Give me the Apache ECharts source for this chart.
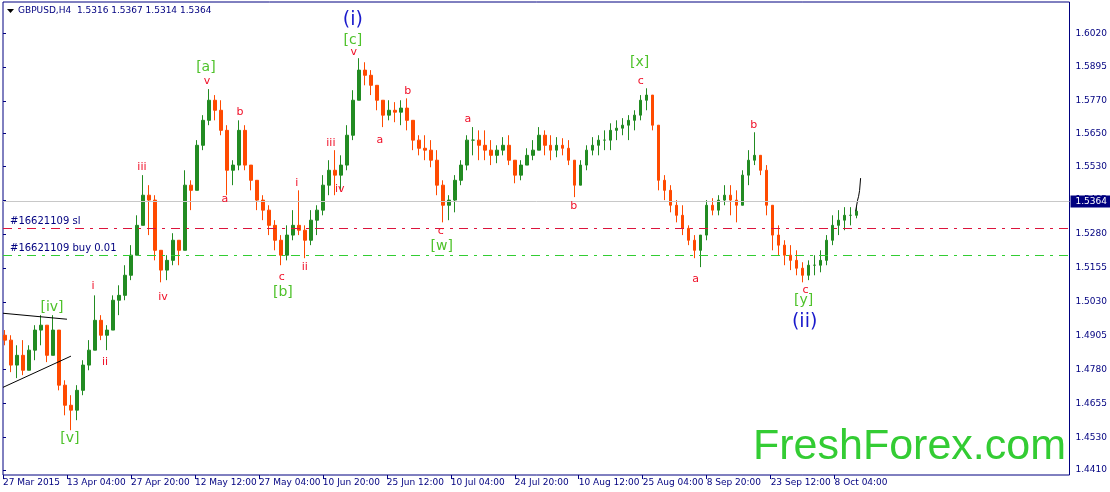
<!DOCTYPE html>
<html>
<head>
<meta charset="utf-8">
<script src="https://cdn.jsdelivr.net/npm/echarts@6/dist/echarts.min.js"></script>
<style>
html, body { margin: 0; padding: 0; background: #fff; }
#main { width: 1110px; height: 492px; }
</style>
</head>
<body>
<div id="main"></div>
<script>
// GBPUSD H4, squeezed into one candle per 6 H4 bars (about a trading day)
var barStep = 6;
var firstOpen = 1.4907;

var highs = [
    1.4926, 1.4907, 1.4870, 1.4889, 1.4870, 1.4944, 1.4981, 1.4926, 1.4981, 1.4870,
    1.4741, 1.4686, 1.4723, 1.4815, 1.4889, 1.5054, 1.4981, 1.4944, 1.5054, 1.5091,
    1.5165, 1.5239, 1.5349, 1.5497, 1.5460, 1.5423, 1.5220, 1.5202, 1.5283, 1.5257,
    1.5515, 1.5478, 1.5626, 1.5718, 1.5814, 1.5792, 1.5773, 1.5681, 1.5552, 1.5699,
    1.5681, 1.5534, 1.5478, 1.5423, 1.5386, 1.5331, 1.5276, 1.5312, 1.5368, 1.5441,
    1.5312, 1.5368, 1.5386, 1.5497, 1.5552, 1.5589, 1.5570, 1.5681, 1.5810, 1.5928,
    1.5913, 1.5884, 1.5828, 1.5773, 1.5773, 1.5766, 1.5773, 1.5780, 1.5699, 1.5644,
    1.5644, 1.5626, 1.5589, 1.5478, 1.5423, 1.5497, 1.5552, 1.5644, 1.5674, 1.5662,
    1.5662, 1.5626, 1.5607, 1.5637, 1.5644, 1.5534, 1.5552, 1.5596, 1.5626, 1.5674,
    1.5662, 1.5644, 1.5637, 1.5633, 1.5626, 1.5552, 1.5552, 1.5607, 1.5637, 1.5644,
    1.5662, 1.5688, 1.5699, 1.5707, 1.5718, 1.5736, 1.5792, 1.5817, 1.5773, 1.5589,
    1.5497, 1.5460, 1.5405, 1.5386, 1.5312, 1.5276, 1.5239, 1.5405, 1.5412, 1.5423,
    1.5460, 1.5460, 1.5441, 1.5515, 1.5589, 1.5655, 1.5570, 1.5534, 1.5386, 1.5312,
    1.5257, 1.5239, 1.5220, 1.5176, 1.5183, 1.5202, 1.5220, 1.5276, 1.5349, 1.5368,
    1.5379, 1.5379, 1.5379
];
var lows = [
    1.4870, 1.4771, 1.4749, 1.4760, 1.4785, 1.4815, 1.4870, 1.4808, 1.4852, 1.4704,
    1.4612, 1.4557, 1.4594, 1.4686, 1.4778, 1.4852, 1.4889, 1.4852, 1.4926, 1.4981,
    1.5036, 1.5110, 1.5202, 1.5312, 1.5276, 1.5183, 1.5102, 1.5110, 1.5165, 1.5165,
    1.5220, 1.5368, 1.5441, 1.5589, 1.5681, 1.5699, 1.5644, 1.5423, 1.5460, 1.5515,
    1.5515, 1.5441, 1.5368, 1.5331, 1.5276, 1.5220, 1.5165, 1.5183, 1.5257, 1.5276,
    1.5191, 1.5239, 1.5276, 1.5349, 1.5423, 1.5423, 1.5441, 1.5515, 1.5626, 1.5773,
    1.5828, 1.5792, 1.5736, 1.5674, 1.5699, 1.5692, 1.5681, 1.5662, 1.5589, 1.5570,
    1.5552, 1.5526, 1.5423, 1.5323, 1.5331, 1.5360, 1.5460, 1.5515, 1.5570, 1.5552,
    1.5552, 1.5534, 1.5541, 1.5570, 1.5534, 1.5467, 1.5478, 1.5534, 1.5552, 1.5589,
    1.5570, 1.5552, 1.5563, 1.5570, 1.5534, 1.5416, 1.5460, 1.5515, 1.5570, 1.5570,
    1.5589, 1.5589, 1.5626, 1.5644, 1.5626, 1.5662, 1.5699, 1.5736, 1.5662, 1.5441,
    1.5405, 1.5360, 1.5323, 1.5276, 1.5239, 1.5191, 1.5158, 1.5257, 1.5349, 1.5349,
    1.5386, 1.5349, 1.5323, 1.5405, 1.5460, 1.5534, 1.5497, 1.5349, 1.5220, 1.5202,
    1.5165, 1.5147, 1.5128, 1.5102, 1.5110, 1.5128, 1.5139, 1.5165, 1.5239, 1.5276,
    1.5294, 1.5312, 1.5338
];
var closes = [
    1.4889, 1.4797, 1.4833, 1.4778, 1.4852, 1.4926, 1.4944, 1.4833, 1.4926, 1.4723,
    1.4649, 1.4631, 1.4704, 1.4797, 1.4852, 1.4962, 1.4907, 1.4926, 1.5036, 1.5054,
    1.5128, 1.5202, 1.5312, 1.5423, 1.5405, 1.5220, 1.5147, 1.5183, 1.5257, 1.5220,
    1.5460, 1.5441, 1.5607, 1.5699, 1.5773, 1.5736, 1.5662, 1.5515, 1.5534, 1.5662,
    1.5534, 1.5478, 1.5405, 1.5368, 1.5312, 1.5257, 1.5202, 1.5276, 1.5312, 1.5294,
    1.5257, 1.5331, 1.5368, 1.5460, 1.5515, 1.5497, 1.5534, 1.5644, 1.5773, 1.5884,
    1.5865, 1.5828, 1.5773, 1.5718, 1.5736, 1.5729, 1.5744, 1.5699, 1.5626, 1.5596,
    1.5589, 1.5552, 1.5460, 1.5386, 1.5405, 1.5478, 1.5534, 1.5626, 1.5626, 1.5607,
    1.5589, 1.5570, 1.5589, 1.5607, 1.5552, 1.5497, 1.5534, 1.5570, 1.5589, 1.5644,
    1.5607, 1.5589, 1.5607, 1.5596, 1.5552, 1.5460, 1.5534, 1.5589, 1.5607, 1.5626,
    1.5626, 1.5662, 1.5670, 1.5681, 1.5699, 1.5718, 1.5773, 1.5792, 1.5681, 1.5478,
    1.5441, 1.5386, 1.5349, 1.5301, 1.5257, 1.5220, 1.5276, 1.5386, 1.5368, 1.5405,
    1.5423, 1.5405, 1.5386, 1.5497, 1.5552, 1.5570, 1.5515, 1.5386, 1.5276, 1.5239,
    1.5202, 1.5183, 1.5154, 1.5128, 1.5165, 1.5165, 1.5183, 1.5257, 1.5312, 1.5331,
    1.5349, 1.5349, 1.5364
];

// black projection stroke after the last bar
var tailBars = [853, 855, 856, 857, 858];
var tailPrices = [1.5364, 1.5405, 1.5419, 1.5441, 1.5486];

// triangle ([iv]) boundaries
var triUpperBars = [0, 64];
var triUpperPrices = [1.4988, 1.4966];
var triLowerBars = [0, 68];
var triLowerPrices = [1.4715, 1.4830];

var lastBar = [1.5316, 1.5367, 1.5314, 1.5364];
var slPrice = 1.5280;
var buyPrice = 1.5210;

// axes
var priceTicks = [1.4410, 1.4530, 1.4655, 1.4780, 1.4905, 1.5030, 1.5155, 1.5280,
    1.5405, 1.5530, 1.5650, 1.5770, 1.5895, 1.6020];
var dateTickBars = [0, 64, 128, 192, 256, 320, 384, 448, 512, 576, 640, 704, 768, 832];
var dateTickLabels = ['27 Mar 2015', '13 Apr 04:00', '27 Apr 20:00', '12 May 12:00',
    '27 May 04:00', '10 Jun 20:00', '25 Jun 12:00', '10 Jul 04:00', '24 Jul 20:00',
    '10 Aug 12:00', '25 Aug 04:00', '8 Sep 20:00', '23 Sep 12:00', '8 Oct 04:00'];

// wave counts
var waveText = ['[iv]', '[v]', 'i', 'ii', 'iii', 'iv', '[a]', 'v', 'a', 'b', 'c', '[b]',
    'i', 'ii', 'iii', 'iv', '(i)', '[c]', 'v', 'a', 'b', 'c', '[w]', 'a', 'b', '[x]', 'c',
    'a', 'b', 'c', '[y]', '(ii)'];
var waveBar = [49, 67, 90, 102, 139, 160, 203, 204, 222, 237, 279, 280,
    294, 302, 328, 337, 350, 350, 351, 377, 405, 438, 439, 465, 571, 637, 638,
    693, 751, 803, 801, 802];
var wavePrice = [1.5010, 1.4528, 1.5088, 1.4808, 1.5526, 1.5047, 1.5895, 1.5843, 1.5408,
    1.5729, 1.5121, 1.5066, 1.5467, 1.5158, 1.5615, 1.5445, 1.6068, 1.5994, 1.5950,
    1.5626, 1.5806, 1.5290, 1.5235, 1.5703, 1.5383, 1.5913, 1.5843, 1.5113, 1.5681,
    1.5073, 1.5036, 1.4955];

var navy = '#000080';
var font = 'DejaVu Sans';

var waveStyle = {
    green: { color: '#4EC22A', fontSize: 14 },
    red: { color: '#F01028', fontSize: 11 },
    blue: { color: '#1A1ACC', fontSize: 19 }
};
function waveKind(t) {
    if (t.charAt(0) === '[') return 'green';
    if (t.charAt(0) === '(') return 'blue';
    return 'red';
}

var candleData = closes.map(function (c, i) {
    var o = i ? closes[i - 1] : firstOpen;
    return [i * barStep + 2, o, c, Math.min(lows[i], o, c), Math.max(highs[i], o, c)];
});

var waveData = waveText.map(function (t, i) {
    var st = waveStyle[waveKind(t)];
    return {
        value: [waveBar[i], wavePrice[i]],
        name: t,
        label: { color: st.color, fontSize: st.fontSize }
    };
});

function pairs(xs, ys) {
    return xs.map(function (x, i) { return [x, ys[i]]; });
}

var chart = echarts.init(document.getElementById('main'));

chart.setOption({
    animation: false,
    backgroundColor: '#ffffff',
    textStyle: { fontFamily: font },
    grid: {
        left: 3, right: 40, top: 2, bottom: 17,
        show: true, borderColor: navy, borderWidth: 1, backgroundColor: '#ffffff'
    },
    xAxis: {
        type: 'value',
        min: 0, max: 1067,
        axisLine: { show: false },
        splitLine: { show: false },
        axisTick: { show: true, customValues: dateTickBars, length: 4, lineStyle: { color: navy } },
        axisLabel: {
            customValues: dateTickBars,
            color: navy, fontSize: 9, fontFamily: font,
            align: 'left', margin: 3,
            formatter: function (v) {
                var k = dateTickBars.indexOf(Math.round(v));
                return k < 0 ? '' : dateTickLabels[k];
            }
        }
    },
    yAxis: {
        type: 'value',
        position: 'right',
        min: 1.4392, max: 1.6135,
        scale: true,
        axisLine: { show: false },
        splitLine: { show: false },
        axisTick: { show: true, customValues: priceTicks, length: 3, lineStyle: { color: navy } },
        axisLabel: {
            customValues: priceTicks,
            color: navy, fontSize: 9, fontFamily: font, margin: 6,
            formatter: function (v) { return v.toFixed(4); }
        }
    },
    series: [
        {
            type: 'candlestick',
            data: candleData,
            encode: { x: 0, y: [1, 2, 3, 4] },
            barWidth: 3,
            itemStyle: {
                color: '#228B22', color0: '#FF4A00',
                borderColor: '#228B22', borderColor0: '#FF4A00', borderWidth: 1
            },
            markLine: {
                silent: true,
                symbol: ['none', 'none'],
                data: [
                    {
                        yAxis: lastBar[3],
                        lineStyle: { color: '#C8C8C8', width: 1, type: 'solid' },
                        label: {
                            position: 'end', distance: 1,
                            formatter: lastBar[3].toFixed(4),
                            color: '#ffffff', backgroundColor: navy,
                            padding: [2, 3, 1, 5], fontSize: 9, fontFamily: font
                        }
                    },
                    {
                        yAxis: slPrice,
                        lineStyle: { color: '#DC143C', width: 1, type: [9, 6, 3, 6] },
                        label: {
                            position: 'insideStartTop', distance: 2,
                            formatter: '#16621109 sl',
                            padding: [0, 0, 0, 5],
                            color: navy, fontSize: 10, fontFamily: font
                        }
                    },
                    {
                        yAxis: buyPrice,
                        lineStyle: { color: '#32CD32', width: 1, type: [9, 6, 3, 6] },
                        label: {
                            position: 'insideStartTop', distance: 2,
                            formatter: '#16621109 buy 0.01',
                            padding: [0, 0, 0, 5],
                            color: navy, fontSize: 10, fontFamily: font
                        }
                    }
                ]
            }
        },
        {
            type: 'line',
            data: pairs(tailBars, tailPrices),
            symbol: 'none',
            lineStyle: { color: '#000000', width: 1 }
        },
        {
            type: 'line',
            data: pairs(triUpperBars, triUpperPrices),
            symbol: 'none',
            lineStyle: { color: '#000000', width: 1 }
        },
        {
            type: 'line',
            data: pairs(triLowerBars, triLowerPrices),
            symbol: 'none',
            lineStyle: { color: '#000000', width: 1 }
        },
        {
            type: 'scatter',
            data: waveData,
            symbolSize: 0,
            silent: true,
            z: 5,
            itemStyle: { opacity: 1 },
            label: {
                show: true,
                position: 'inside',
                fontFamily: font,
                opacity: 1,
                formatter: function (p) { return p.name; }
            }
        }
    ],
    graphic: [
        {
            type: 'polygon',
            shape: { points: [[7, 9], [14, 9], [10.5, 13]] },
            style: { fill: '#000000' }
        },
        {
            type: 'text',
            x: 18, y: 11,
            style: {
                text: 'GBPUSD,H4  ' + lastBar.map(function (v) { return v.toFixed(4); }).join(' '),
                fill: navy, font: '9px "DejaVu Sans"', verticalAlign: 'middle'
            }
        },
        {
            type: 'text',
            x: 1066, y: 447,
            style: {
                text: 'FreshForex.com',
                fill: '#33CC33', font: '43px "Liberation Sans"',
                align: 'right', verticalAlign: 'middle'
            }
        }
    ]
});
</script>
</body>
</html>
